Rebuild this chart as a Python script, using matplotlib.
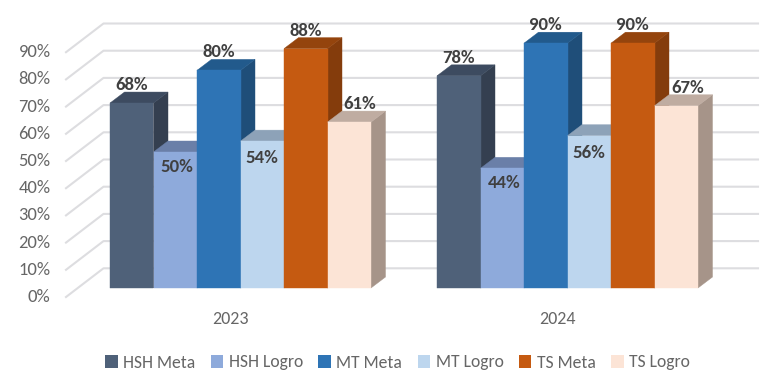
import matplotlib
matplotlib.use("Agg")
import matplotlib.pyplot as plt
from matplotlib.patches import Polygon, Patch

plt.rcParams['font.family'] = ['Carlito', 'Lato', 'DejaVu Sans']

# ---- data ----
years = ["2023", "2024"]
series = ["HSH Meta", "HSH Logro", "MT Meta", "MT Logro", "TS Meta", "TS Logro"]
values_2023 = [68, 50, 80, 54, 88, 61]
values_2024 = [78, 44, 90, 56, 90, 67]
ticks = [0, 10, 20, 30, 40, 50, 60, 70, 80, 90]

# ---- styles ----
front = ["#4F6179", "#8EAADB", "#2E74B5", "#BDD6EE", "#C55A11", "#FCE4D6"]
top = ["#3D4B60", "#6A7FA8", "#225A8C", "#8DA2B8", "#94440D", "#BFACA1"]
side = ["#343F50", "#5C6F94", "#1F4E79", "#7F93A8", "#843C0C", "#A69489"]
lab_dx = [0, 2, 0, 0, 0, 11]      # px offset of data label
lab_dy = [18, -15, 18, -17, 18, 18]

W, H = 768, 376
PX_X = 327.0      # px per category
PX_Y = 2.72       # px per percent
X0, Y0 = 240.5, 288.0   # px of first category centre, bar base
BAR = 43.5 / PX_X
DX, DY = 14.5 / PX_X, 11 / PX_Y

fig = plt.figure(figsize=(W / 100, H / 100), dpi=100)
ax = fig.add_axes([0, 0, 1, 1])
ax.set_xlim(-X0 / PX_X, (W - X0) / PX_X)
ax.set_ylim((Y0 - H) / PX_Y, Y0 / PX_Y)
ax.axis("off")

# walls / gridlines
xf = (66 - X0) / PX_X
xb = (103.5 - X0) / PX_X
xr = (758 - X0) / PX_X
off_f = (Y0 - 297) / PX_Y
off_b = (Y0 - 268.3) / PX_Y
for t in ticks:
    ax.plot([xf, xb, xr], [t + off_f, t + off_b, t + off_b], color="#DDDDE0", lw=1.5,
            solid_joinstyle="round", zorder=1)
    ax.text((50.5 - X0) / PX_X, t + off_f, f"{t}%", ha="right", va="center",
            fontsize=13.3, color="#666666", zorder=5)

# bars
z = 2
for g, (yr, vals) in enumerate(zip(years, [values_2023, values_2024])):
    for i, v in enumerate(vals):
        x0 = g + (i - 3) * BAR
        x1 = x0 + BAR
        ax.add_patch(Polygon([(x1, 0), (x1 + DX, DY), (x1 + DX, v + DY), (x1, v)],
                             facecolor=side[i], edgecolor=side[i], lw=0.3, zorder=z))
        ax.add_patch(Polygon([(x0, v), (x0 + DX, v + DY), (x1 + DX, v + DY), (x1, v)],
                             facecolor=top[i], edgecolor=top[i], lw=0.3, zorder=z))
        ax.bar(x0, v, width=BAR, align="edge", color=front[i], edgecolor=front[i],
               linewidth=0.3, zorder=z + 0.5)
        z += 1
    for i, v in enumerate(vals):
        x = g + (i - 2.5) * BAR
        ax.text(x + lab_dx[i] / PX_X, v + lab_dy[i] / PX_Y, f"{v}%", ha="center", va="center",
                fontsize=13.5, fontweight="bold", color="#404040", zorder=50)
    ax.text(g - 10.5 / PX_X, (Y0 - 319) / PX_Y, yr, ha="center", va="center",
            fontsize=13, color="#666666")

handles = [Patch(facecolor=c, edgecolor="none") for c in front]
ax.legend(handles, series, ncol=6, loc="center", bbox_to_anchor=(397.5 / W, 1 - 362.5 / H),
          bbox_transform=fig.transFigure, frameon=False, fontsize=12.7,
          labelcolor="#666666", handlelength=0.72, handleheight=0.72, handletextpad=0.3,
          columnspacing=0.87, borderpad=0, borderaxespad=0)

fig.savefig("out.png", dpi=100, facecolor="white")
